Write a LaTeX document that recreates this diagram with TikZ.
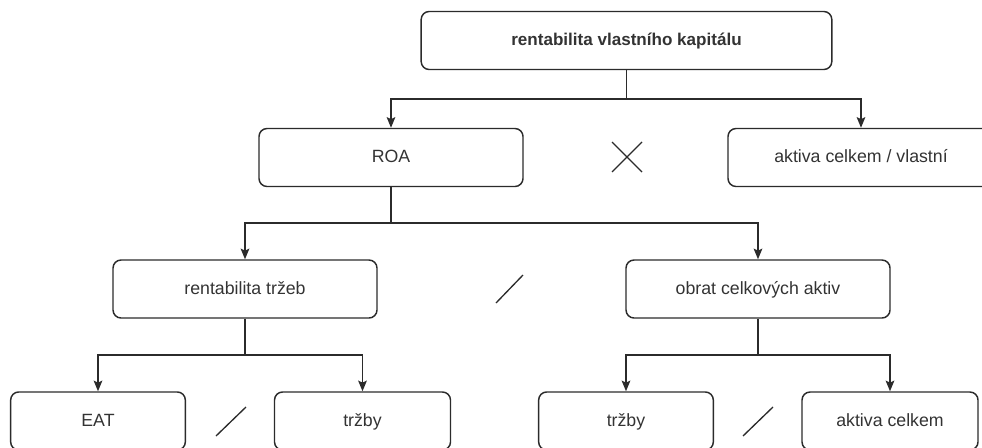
\documentclass[tikz,border=0pt]{standalone}
\usepackage{fontspec}
\setmainfont{Liberation Sans}
\usetikzlibrary{arrows.meta}
\definecolor{linegray}{HTML}{2B2B2B}
\definecolor{textgray}{HTML}{333333}
\begin{document}
\begin{tikzpicture}[x=0.75pt,y=-0.75pt,
    box/.style={shape=rectangle,rounded corners=6pt,draw=linegray,line width=1.1pt,
        text=textgray,font=\fontsize{13.3}{15}\selectfont,minimum height=43.5pt,
        text height=11pt,text depth=3pt},
    arr/.style={-{Stealth[length=8pt,width=6.5pt,inset=1.5pt]},draw=linegray,line width=1.1pt},
    op/.style={draw=linegray,line width=1pt}]
        \clip (0,0) rectangle (982,447);

        \node[box,minimum width=308pt,font=\bfseries\fontsize{12.8}{15}\selectfont] (rvk) at (626.5,40.5) {rentabilita vlastního kapitálu};
        \node[box,minimum width=198pt] (roa) at (391,157.5) {ROA};
        \node[box,minimum width=199.5pt] (akv) at (861,157.5) {aktiva celkem / vlastní};
        \node[box,minimum width=198pt] (rt) at (245,289) {rentabilita tržeb};
        \node[box,minimum width=198pt] (oca) at (758,289) {obrat celkových aktiv};
        \node[box,minimum width=131pt] (eat) at (98,421) {EAT};
        \node[box,minimum width=132pt] (trz1) at (362.5,421) {tržby};
        \node[box,minimum width=131pt] (trz2) at (626,421) {tržby};
        \node[box,minimum width=132pt] (ac) at (890,421) {aktiva celkem};

        \coordinate (j1) at (rvk.south |- 0,99);
        \coordinate (j2) at (roa.south |- 0,223);
        \coordinate (j3) at (rt.south |- 0,355);
        \coordinate (j4) at (oca.south |- 0,355);

        \draw[arr] (rvk.south) -- (j1) -| (roa.north);
        \draw[arr] (j1) -| (akv.north);
        \draw[arr] (roa.south) -- (j2) -| (rt.north);
        \draw[arr] (j2) -| (oca.north);
        \draw[arr] (rt.south) -- (j3) -| (eat.north);
        \draw[arr] (j3) -| (trz1.north);
        \draw[arr] (oca.south) -- (j4) -| (trz2.north);
        \draw[arr] (j4) -| (ac.north);

        % operators
        \draw[op] (612,142) -- (642,172) (642,142) -- (612,172);
        \draw[op] (496,303) -- (523,275);
        \draw[op] (216,436) -- (246,407);
        \draw[op] (743,436) -- (773,407);
    \end{tikzpicture}
\end{document}
